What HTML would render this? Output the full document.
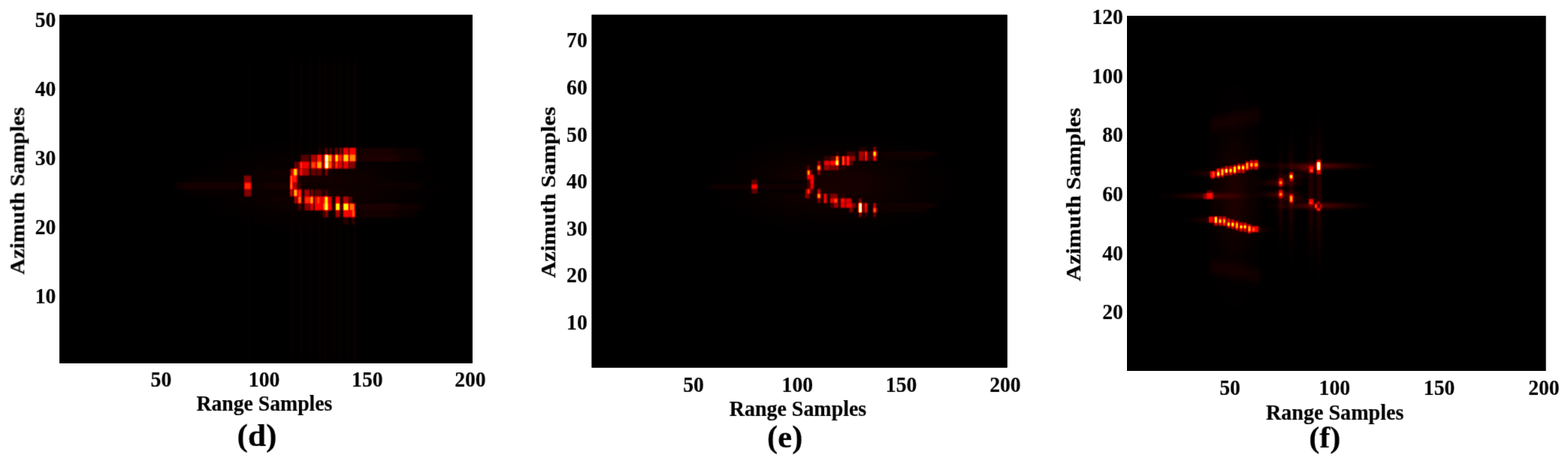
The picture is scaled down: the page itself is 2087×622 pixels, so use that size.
<!DOCTYPE html>
<html lang="en">
<head>
<meta charset="utf-8">
<title>Range / Azimuth sample maps (d) (e) (f)</title>
<style>
html,body{margin:0;padding:0;background:#fff;}
body{width:2087px;height:622px;overflow:hidden;}
svg{display:block;}
text{font-family:'Liberation Serif', serif;font-weight:bold;fill:#000;stroke:#000;stroke-width:0.18px;}
.l>*{mix-blend-mode:lighten;}
</style>
</head>
<body>
<svg width="2087" height="622" viewBox="0 0 2087 622">
<defs>
<filter id="h1" color-interpolation-filters="sRGB" filterUnits="userSpaceOnUse" x="71" y="12" width="566" height="480"><feConvolveMatrix order="5 1" kernelMatrix="0.0219 0.2285 0.4991 0.2285 0.0219" divisor="1" edgeMode="duplicate" preserveAlpha="true"/><feConvolveMatrix order="1 5" kernelMatrix="0.0219 0.2285 0.4991 0.2285 0.0219" divisor="1" edgeMode="duplicate" preserveAlpha="true"/><feComponentTransfer>
<feFuncR type="table" tableValues="0 .3333 .6667 1 1 1 1 1 1"/>
<feFuncG type="table" tableValues="0 0 0 0 .3333 .6667 1 1 1"/>
<feFuncB type="table" tableValues="0 0 0 0 0 0 0 .5 1"/>
</feComponentTransfer></filter>
<filter id="h2" color-interpolation-filters="sRGB" filterUnits="userSpaceOnUse" x="780" y="12" width="569" height="486"><feConvolveMatrix order="5 1" kernelMatrix="0.0219 0.2285 0.4991 0.2285 0.0219" divisor="1" edgeMode="duplicate" preserveAlpha="true"/><feConvolveMatrix order="1 5" kernelMatrix="0.0219 0.2285 0.4991 0.2285 0.0219" divisor="1" edgeMode="duplicate" preserveAlpha="true"/><feComponentTransfer>
<feFuncR type="table" tableValues="0 .3333 .6667 1 1 1 1 1 1"/>
<feFuncG type="table" tableValues="0 0 0 0 .3333 .6667 1 1 1"/>
<feFuncB type="table" tableValues="0 0 0 0 0 0 0 .5 1"/>
</feComponentTransfer></filter>
<filter id="h3" color-interpolation-filters="sRGB" filterUnits="userSpaceOnUse" x="1492" y="13" width="573" height="489"><feConvolveMatrix order="5 1" kernelMatrix="0.0152 0.2188 0.5321 0.2188 0.0152" divisor="1" edgeMode="duplicate" preserveAlpha="true"/><feConvolveMatrix order="1 5" kernelMatrix="0.0219 0.2285 0.4991 0.2285 0.0219" divisor="1" edgeMode="duplicate" preserveAlpha="true"/><feComponentTransfer>
<feFuncR type="table" tableValues="0 .3333 .6667 1 1 1 1 1 1"/>
<feFuncG type="table" tableValues="0 0 0 0 .3333 .6667 1 1 1"/>
<feFuncB type="table" tableValues="0 0 0 0 0 0 0 .5 1"/>
</feComponentTransfer></filter>
<filter id="tb" color-interpolation-filters="sRGB" filterUnits="userSpaceOnUse" x="0" y="0" width="2087" height="622"><feConvolveMatrix order="5 1" kernelMatrix="0.0001 0.0929 0.8139 0.0929 0.0001" divisor="1" edgeMode="duplicate" preserveAlpha="false"/><feConvolveMatrix order="1 5" kernelMatrix="0.0001 0.0929 0.8139 0.0929 0.0001" divisor="1" edgeMode="duplicate" preserveAlpha="false"/></filter>
<filter id="vb" filterUnits="userSpaceOnUse" x="60" y="0" width="590" height="505" color-interpolation-filters="sRGB"><feGaussianBlur stdDeviation="1.4 8"/></filter>
<filter id="sb" x="-20%" y="-300%" width="140%" height="700%" color-interpolation-filters="sRGB"><feGaussianBlur stdDeviation="6 0"/></filter>
<filter id="gb" filterUnits="userSpaceOnUse" x="1480" y="1" width="600" height="515" color-interpolation-filters="sRGB"><feGaussianBlur stdDeviation="2"/></filter>
<radialGradient id="bg"><stop offset="0" stop-color="#fff"/><stop offset="0.22" stop-color="#e0e0e0"/><stop offset="0.45" stop-color="#777"/><stop offset="0.7" stop-color="#2c2c2c"/><stop offset="1" stop-color="#000"/></radialGradient>
<clipPath id="c1"><rect x="79.3" y="19.8" width="549.5" height="464.0"/></clipPath>
<clipPath id="c2"><rect x="787.6" y="19.7" width="553.0" height="469.9"/></clipPath>
<clipPath id="c3"><rect x="1500.0" y="21.0" width="557.4" height="473.0"/></clipPath>
</defs>
<rect width="2087" height="622" fill="#fff"/>
<g>
<rect x="79.3" y="19.8" width="549.5" height="464.0" fill="#000"/>
<rect x="787.6" y="19.7" width="553.0" height="469.9" fill="#000"/>
<rect x="1500.0" y="21.0" width="557.4" height="473.0" fill="#000"/>
</g>
<g clip-path="url(#c1)"><g filter="url(#h1)">
<rect x="69.3" y="9.8" width="569.5" height="484.0" fill="#000"/><ellipse cx="420" cy="248" rx="190" ry="70" fill="url(#bg)" opacity="0.035"/>
<g class="l" filter="url(#vb)">
<rect x="388.0" y="79.8" width="2.2" height="404.0" fill="#050505"/>
<rect x="400.0" y="79.8" width="2.2" height="404.0" fill="#060606"/>
<rect x="412.0" y="79.8" width="2.2" height="404.0" fill="#050505"/>
<rect x="424.0" y="79.8" width="2.2" height="404.0" fill="#070707"/>
<rect x="432.0" y="79.8" width="2.2" height="404.0" fill="#070707"/>
<rect x="444.0" y="79.8" width="2.2" height="404.0" fill="#060606"/>
<rect x="452.0" y="79.8" width="2.2" height="404.0" fill="#070707"/>
<rect x="462.0" y="79.8" width="2.2" height="404.0" fill="#060606"/>
<rect x="471.0" y="79.8" width="2.2" height="404.0" fill="#070707"/>
<rect x="330.0" y="79.8" width="2.2" height="404.0" fill="#040404"/>
</g>
<g filter="url(#sb)" class="l">
<rect x="476.0" y="196.7" width="49.0" height="9.3" fill="#090909"/>
<rect x="476.0" y="196.7" width="82.0" height="9.3" fill="#050505"/>
<rect x="476.0" y="206.0" width="54.0" height="9.3" fill="#0b0b0b"/>
<rect x="476.0" y="206.0" width="86.0" height="9.3" fill="#060606"/>
<rect x="236.0" y="243.1" width="326.0" height="9.3" fill="#050505"/>
<rect x="236.0" y="243.1" width="84.0" height="9.3" fill="#080808"/>
<rect x="350.0" y="243.1" width="40.0" height="9.3" fill="#080808"/>
<rect x="400.0" y="243.1" width="70.0" height="9.3" fill="#060606"/>
<rect x="474.0" y="271.0" width="56.0" height="9.3" fill="#0a0a0a"/>
<rect x="474.0" y="271.0" width="88.0" height="9.3" fill="#060606"/>
<rect x="474.0" y="280.2" width="51.0" height="9.3" fill="#080808"/>
<rect x="474.0" y="280.2" width="82.0" height="9.3" fill="#040404"/>
<rect x="335.0" y="215.3" width="55.0" height="9.3" fill="#030303"/>
<rect x="335.0" y="233.8" width="50.0" height="9.3" fill="#040404"/>
<rect x="335.0" y="252.4" width="50.0" height="9.3" fill="#040404"/>
<rect x="250.0" y="233.8" width="72.0" height="9.3" fill="#030303"/>
<rect x="250.0" y="252.4" width="72.0" height="9.3" fill="#030303"/>
</g>
<rect x="423.5" y="196.7" width="3.9" height="9.3" fill="#0d0d0d"/>
<rect x="432.2" y="196.7" width="3.9" height="9.3" fill="#1f1f1f"/>
<rect x="438.0" y="196.7" width="3.9" height="9.3" fill="#1a1a1a"/>
<rect x="445.7" y="196.7" width="3.9" height="9.3" fill="#262626"/>
<rect x="451.5" y="196.7" width="3.9" height="9.3" fill="#2e2e2e"/>
<rect x="456.8" y="196.7" width="7.2" height="9.3" fill="#585858"/>
<rect x="465.0" y="196.7" width="8.7" height="9.3" fill="#5f5f5f"/>
<rect x="400.3" y="206.0" width="11.6" height="9.3" fill="#1f1f1f"/>
<rect x="413.8" y="206.0" width="6.8" height="9.3" fill="#404040"/>
<rect x="421.6" y="206.0" width="6.8" height="9.3" fill="#6a6a6a"/>
<rect x="429.3" y="206.0" width="2.9" height="9.3" fill="#333333"/>
<rect x="432.4" y="206.0" width="4.4" height="9.3" fill="#ffffff"/>
<rect x="437.2" y="206.0" width="4.8" height="9.3" fill="#9a9a9a"/>
<rect x="441.8" y="206.0" width="3.9" height="9.3" fill="#333333"/>
<rect x="445.9" y="206.0" width="4.4" height="9.3" fill="#b6b6b6"/>
<rect x="450.7" y="206.0" width="4.8" height="9.3" fill="#707070"/>
<rect x="456.8" y="206.0" width="7.2" height="9.3" fill="#afafaf"/>
<rect x="465.0" y="206.0" width="8.7" height="9.3" fill="#929292"/>
<rect x="391.7" y="215.3" width="3.9" height="9.3" fill="#262626"/>
<rect x="396.5" y="215.3" width="3.4" height="9.3" fill="#333333"/>
<rect x="399.6" y="215.3" width="2.9" height="9.3" fill="#7e7e7e"/>
<rect x="402.7" y="215.3" width="8.7" height="9.3" fill="#5d5d5d"/>
<rect x="413.8" y="215.3" width="6.8" height="9.3" fill="#777777"/>
<rect x="421.6" y="215.3" width="6.8" height="9.3" fill="#9f9f9f"/>
<rect x="429.3" y="215.3" width="2.9" height="9.3" fill="#333333"/>
<rect x="432.4" y="215.3" width="4.4" height="9.3" fill="#ffffff"/>
<rect x="437.2" y="215.3" width="4.8" height="9.3" fill="#7e7e7e"/>
<rect x="441.8" y="215.3" width="3.9" height="9.3" fill="#333333"/>
<rect x="445.9" y="215.3" width="4.4" height="9.3" fill="#707070"/>
<rect x="450.7" y="215.3" width="4.8" height="9.3" fill="#545454"/>
<rect x="456.8" y="215.3" width="7.2" height="9.3" fill="#585858"/>
<rect x="465.0" y="215.3" width="7.7" height="9.3" fill="#333333"/>
<rect x="386.6" y="224.6" width="4.4" height="9.3" fill="#545454"/>
<rect x="390.9" y="224.6" width="4.8" height="9.3" fill="#b6b6b6"/>
<rect x="396.5" y="224.6" width="3.4" height="9.3" fill="#333333"/>
<rect x="399.6" y="224.6" width="2.9" height="9.3" fill="#707070"/>
<rect x="402.7" y="224.6" width="8.7" height="9.3" fill="#404040"/>
<rect x="413.8" y="224.6" width="6.8" height="9.3" fill="#262626"/>
<rect x="421.6" y="224.6" width="6.8" height="9.3" fill="#262626"/>
<rect x="432.7" y="224.6" width="3.4" height="9.3" fill="#2e2e2e"/>
<rect x="324.6" y="233.8" width="9.6" height="9.3" fill="#333333"/>
<rect x="386.1" y="233.8" width="3.4" height="9.3" fill="#8c8c8c"/>
<rect x="389.7" y="233.8" width="5.8" height="9.3" fill="#6a6a6a"/>
<rect x="396.5" y="233.8" width="3.9" height="9.3" fill="#0d0d0d"/>
<rect x="325.1" y="243.1" width="9.2" height="9.3" fill="#6f6f6f"/>
<rect x="386.1" y="243.1" width="3.4" height="9.3" fill="#9a9a9a"/>
<rect x="390.2" y="243.1" width="5.3" height="9.3" fill="#404040"/>
<rect x="396.5" y="243.1" width="3.9" height="9.3" fill="#1a1a1a"/>
<rect x="325.1" y="252.4" width="9.2" height="9.3" fill="#333333"/>
<rect x="386.1" y="252.4" width="3.4" height="9.3" fill="#545454"/>
<rect x="390.9" y="252.4" width="4.8" height="9.3" fill="#a8a8a8"/>
<rect x="396.5" y="252.4" width="4.8" height="9.3" fill="#6f6f6f"/>
<rect x="405.2" y="252.4" width="6.8" height="9.3" fill="#404040"/>
<rect x="413.8" y="252.4" width="2.9" height="9.3" fill="#333333"/>
<rect x="418.7" y="252.4" width="9.6" height="9.3" fill="#1f1f1f"/>
<rect x="432.2" y="252.4" width="3.9" height="9.3" fill="#1a1a1a"/>
<rect x="391.7" y="261.7" width="3.9" height="9.3" fill="#404040"/>
<rect x="396.5" y="261.7" width="4.8" height="9.3" fill="#8a8a8a"/>
<rect x="405.2" y="261.7" width="7.7" height="9.3" fill="#6f6f6f"/>
<rect x="413.1" y="261.7" width="3.9" height="9.3" fill="#a3a3a3"/>
<rect x="418.4" y="261.7" width="4.4" height="9.3" fill="#5d5d5d"/>
<rect x="422.3" y="261.7" width="3.4" height="9.3" fill="#7e7e7e"/>
<rect x="425.2" y="261.7" width="3.4" height="9.3" fill="#5d5d5d"/>
<rect x="429.0" y="261.7" width="3.9" height="9.3" fill="#626262"/>
<rect x="432.4" y="261.7" width="4.4" height="9.3" fill="#bfbfbf"/>
<rect x="436.5" y="261.7" width="5.3" height="9.3" fill="#505050"/>
<rect x="446.6" y="261.7" width="5.8" height="9.3" fill="#5f5f5f"/>
<rect x="456.8" y="261.7" width="7.2" height="9.3" fill="#454545"/>
<rect x="465.0" y="261.7" width="3.9" height="9.3" fill="#1f1f1f"/>
<rect x="396.5" y="271.0" width="4.8" height="9.3" fill="#1a1a1a"/>
<rect x="405.2" y="271.0" width="7.7" height="9.3" fill="#333333"/>
<rect x="413.1" y="271.0" width="3.9" height="9.3" fill="#545454"/>
<rect x="418.7" y="271.0" width="9.6" height="9.3" fill="#5f5f5f"/>
<rect x="429.0" y="271.0" width="3.9" height="9.3" fill="#767676"/>
<rect x="432.4" y="271.0" width="4.4" height="9.3" fill="#d2d2d2"/>
<rect x="436.5" y="271.0" width="5.3" height="9.3" fill="#5d5d5d"/>
<rect x="446.6" y="271.0" width="5.8" height="9.3" fill="#bfbfbf"/>
<rect x="456.8" y="271.0" width="7.2" height="9.3" fill="#bfbfbf"/>
<rect x="465.0" y="271.0" width="7.2" height="9.3" fill="#8a8a8a"/>
<rect x="429.3" y="280.2" width="3.4" height="9.3" fill="#1a1a1a"/>
<rect x="432.7" y="280.2" width="3.9" height="9.3" fill="#333333"/>
<rect x="446.6" y="280.2" width="5.8" height="9.3" fill="#404040"/>
<rect x="456.8" y="280.2" width="7.2" height="9.3" fill="#5f5f5f"/>
<rect x="464.0" y="280.2" width="4.8" height="9.3" fill="#585858"/>
<rect x="468.6" y="280.2" width="3.9" height="9.3" fill="#878787"/>
<rect x="456.8" y="289.5" width="7.2" height="9.3" fill="#0f0f0f"/>
<rect x="467.9" y="289.5" width="4.3" height="9.3" fill="#141414"/>
</g></g>
<g clip-path="url(#c2)"><g filter="url(#h2)">
<rect x="777.6" y="9.7" width="573.0" height="489.9" fill="#000"/><ellipse cx="1110" cy="245" rx="190" ry="75" fill="url(#bg)" opacity="0.035"/>
<g filter="url(#sb)" class="l">
<rect x="945.0" y="245.5" width="130.0" height="6.3" fill="#070707"/>
<rect x="990.0" y="239.2" width="85.0" height="6.3" fill="#030303"/>
<rect x="990.0" y="251.7" width="85.0" height="6.3" fill="#030303"/>
<rect x="1168.0" y="201.6" width="77.0" height="6.3" fill="#070707"/>
<rect x="1168.0" y="207.9" width="67.0" height="6.3" fill="#050505"/>
<rect x="1168.0" y="270.5" width="77.0" height="6.3" fill="#070707"/>
<rect x="1168.0" y="276.8" width="67.0" height="6.3" fill="#050505"/>
</g>
<rect x="1162.3" y="195.3" width="3.9" height="6.3" fill="#2f2f2f"/>
<rect x="1143.0" y="195.3" width="10.6" height="6.3" fill="#0c0c0c"/>
<rect x="1113.1" y="201.6" width="2.9" height="6.3" fill="#131313"/>
<rect x="1126.6" y="201.6" width="11.6" height="6.3" fill="#181818"/>
<rect x="1143.0" y="201.6" width="6.8" height="6.3" fill="#404040"/>
<rect x="1151.0" y="201.6" width="3.4" height="6.3" fill="#757575"/>
<rect x="1154.1" y="201.6" width="7.2" height="6.3" fill="#181818"/>
<rect x="1162.1" y="201.6" width="4.4" height="6.3" fill="#b7b7b7"/>
<rect x="1096.7" y="207.9" width="7.7" height="6.3" fill="#131313"/>
<rect x="1105.4" y="207.9" width="6.8" height="6.3" fill="#242424"/>
<rect x="1112.4" y="207.9" width="3.9" height="6.3" fill="#9d9d9d"/>
<rect x="1120.6" y="207.9" width="3.9" height="6.3" fill="#828282"/>
<rect x="1126.4" y="207.9" width="4.4" height="6.3" fill="#757575"/>
<rect x="1131.5" y="207.9" width="6.8" height="6.3" fill="#3b3b3b"/>
<rect x="1143.0" y="207.9" width="6.8" height="6.3" fill="#3b3b3b"/>
<rect x="1151.0" y="207.9" width="3.4" height="6.3" fill="#686868"/>
<rect x="1154.1" y="207.9" width="7.2" height="6.3" fill="#181818"/>
<rect x="1162.1" y="207.9" width="4.4" height="6.3" fill="#5e5e5e"/>
<rect x="1088.1" y="214.1" width="3.9" height="6.3" fill="#343434"/>
<rect x="1096.7" y="214.1" width="7.7" height="6.3" fill="#595959"/>
<rect x="1104.9" y="214.1" width="7.2" height="6.3" fill="#636363"/>
<rect x="1112.4" y="214.1" width="3.9" height="6.3" fill="#ebebeb"/>
<rect x="1120.6" y="214.1" width="3.9" height="6.3" fill="#828282"/>
<rect x="1126.4" y="214.1" width="4.4" height="6.3" fill="#6e6e6e"/>
<rect x="1131.5" y="214.1" width="3.9" height="6.3" fill="#242424"/>
<rect x="1074.5" y="220.4" width="2.9" height="6.3" fill="#242424"/>
<rect x="1087.8" y="220.4" width="4.4" height="6.3" fill="#9d9d9d"/>
<rect x="1096.7" y="220.4" width="7.7" height="6.3" fill="#3b3b3b"/>
<rect x="1104.9" y="220.4" width="7.2" height="6.3" fill="#2f2f2f"/>
<rect x="1112.7" y="220.4" width="3.4" height="6.3" fill="#3b3b3b"/>
<rect x="1120.9" y="220.4" width="3.4" height="6.3" fill="#131313"/>
<rect x="1074.3" y="226.7" width="4.4" height="6.3" fill="#9d9d9d"/>
<rect x="1078.4" y="226.7" width="3.9" height="6.3" fill="#181818"/>
<rect x="1088.1" y="226.7" width="3.9" height="6.3" fill="#343434"/>
<rect x="1074.3" y="232.9" width="4.4" height="6.3" fill="#5e5e5e"/>
<rect x="1078.4" y="232.9" width="4.8" height="6.3" fill="#636363"/>
<rect x="1000.3" y="239.2" width="7.7" height="6.3" fill="#242424"/>
<rect x="1074.5" y="239.2" width="2.9" height="6.3" fill="#1c1c1c"/>
<rect x="1078.4" y="239.2" width="4.8" height="6.3" fill="#636363"/>
<rect x="1000.3" y="245.5" width="7.7" height="6.3" fill="#636363"/>
<rect x="1074.5" y="245.5" width="2.9" height="6.3" fill="#1c1c1c"/>
<rect x="1078.4" y="245.5" width="4.8" height="6.3" fill="#595959"/>
<rect x="1000.3" y="251.7" width="7.7" height="6.3" fill="#242424"/>
<rect x="1071.7" y="251.7" width="2.9" height="6.3" fill="#2f2f2f"/>
<rect x="1074.3" y="251.7" width="4.4" height="6.3" fill="#757575"/>
<rect x="1078.4" y="251.7" width="4.8" height="6.3" fill="#181818"/>
<rect x="1088.1" y="251.7" width="3.9" height="6.3" fill="#474747"/>
<rect x="1071.7" y="258.0" width="5.8" height="6.3" fill="#343434"/>
<rect x="1087.8" y="258.0" width="4.4" height="6.3" fill="#9d9d9d"/>
<rect x="1096.5" y="258.0" width="3.9" height="6.3" fill="#636363"/>
<rect x="1104.9" y="258.0" width="10.1" height="6.3" fill="#2f2f2f"/>
<rect x="1118.9" y="258.0" width="5.8" height="6.3" fill="#0e0e0e"/>
<rect x="1088.1" y="264.2" width="3.9" height="6.3" fill="#2f2f2f"/>
<rect x="1096.5" y="264.2" width="3.9" height="6.3" fill="#686868"/>
<rect x="1104.9" y="264.2" width="4.8" height="6.3" fill="#595959"/>
<rect x="1109.8" y="264.2" width="5.3" height="6.3" fill="#7b7b7b"/>
<rect x="1118.9" y="264.2" width="5.8" height="6.3" fill="#636363"/>
<rect x="1125.7" y="264.2" width="7.7" height="6.3" fill="#515151"/>
<rect x="1143.0" y="264.2" width="3.9" height="6.3" fill="#2f2f2f"/>
<rect x="1104.9" y="270.5" width="4.8" height="6.3" fill="#181818"/>
<rect x="1109.8" y="270.5" width="6.3" height="6.3" fill="#3b3b3b"/>
<rect x="1118.9" y="270.5" width="5.8" height="6.3" fill="#595959"/>
<rect x="1125.7" y="270.5" width="8.7" height="6.3" fill="#5b5b5b"/>
<rect x="1134.4" y="270.5" width="4.8" height="6.3" fill="#2f2f2f"/>
<rect x="1142.8" y="270.5" width="4.4" height="6.3" fill="#ffffff"/>
<rect x="1150.5" y="270.5" width="3.9" height="6.3" fill="#686868"/>
<rect x="1162.3" y="270.5" width="3.9" height="6.3" fill="#474747"/>
<rect x="1130.5" y="276.8" width="4.8" height="6.3" fill="#2f2f2f"/>
<rect x="1142.8" y="276.8" width="4.4" height="6.3" fill="#f8f8f8"/>
<rect x="1150.5" y="276.8" width="3.9" height="6.3" fill="#5b5b5b"/>
<rect x="1162.1" y="276.8" width="4.4" height="6.3" fill="#828282"/>
<rect x="1143.0" y="283.0" width="3.9" height="6.3" fill="#2f2f2f"/>
<rect x="1150.8" y="283.0" width="3.4" height="6.3" fill="#131313"/>
<rect x="1162.3" y="283.0" width="3.9" height="6.3" fill="#242424"/>
</g></g>
<g clip-path="url(#c3)"><g filter="url(#h3)">
<rect x="1490.0" y="11.0" width="577.4" height="493.0" fill="#000"/>
<g class="l" filter="url(#gb)">
<ellipse cx="1609.0" cy="261.0" rx="70.0" ry="4.5" fill="url(#bg)" opacity="0.150"/>
<ellipse cx="1613.0" cy="231.0" rx="40.0" ry="4.5" fill="url(#bg)" opacity="0.090"/>
<ellipse cx="1612.0" cy="293.0" rx="40.0" ry="4.5" fill="url(#bg)" opacity="0.090"/>
<ellipse cx="1755.0" cy="221.0" rx="85.0" ry="5.0" fill="url(#bg)" opacity="0.190"/>
<ellipse cx="1755.0" cy="274.0" rx="80.0" ry="5.0" fill="url(#bg)" opacity="0.170"/>
<ellipse cx="1704.5" cy="243.5" rx="40.0" ry="4.5" fill="url(#bg)" opacity="0.150"/>
<ellipse cx="1704.5" cy="259.0" rx="40.0" ry="4.5" fill="url(#bg)" opacity="0.150"/>
<ellipse cx="1718.5" cy="235.0" rx="35.0" ry="4.0" fill="url(#bg)" opacity="0.100"/>
<ellipse cx="1718.5" cy="265.0" rx="35.0" ry="4.0" fill="url(#bg)" opacity="0.100"/>
<ellipse cx="1738.0" cy="226.0" rx="22.0" ry="5.0" fill="url(#bg)" opacity="0.130"/>
<ellipse cx="1672.0" cy="220.0" rx="30.0" ry="4.5" fill="url(#bg)" opacity="0.080"/>
<ellipse cx="1672.0" cy="306.0" rx="30.0" ry="4.5" fill="url(#bg)" opacity="0.080"/>
<ellipse cx="1704.5" cy="260.0" rx="3.5" ry="85.0" fill="url(#bg)" opacity="0.100"/>
<ellipse cx="1718.5" cy="260.0" rx="3.5" ry="105.0" fill="url(#bg)" opacity="0.100"/>
<ellipse cx="1745.0" cy="260.0" rx="3.5" ry="110.0" fill="url(#bg)" opacity="0.110"/>
<ellipse cx="1755.5" cy="260.0" rx="3.5" ry="125.0" fill="url(#bg)" opacity="0.120"/>
<ellipse cx="1643.0" cy="260.0" rx="38.0" ry="150.0" fill="url(#bg)" opacity="0.030"/>
<ellipse cx="1613.5" cy="166.0" rx="2.2" ry="20.0" fill="url(#bg)" opacity="0.075"/>
<ellipse cx="1613.5" cy="355.0" rx="2.2" ry="20.0" fill="url(#bg)" opacity="0.075"/>
<ellipse cx="1613.5" cy="260.0" rx="1.8" ry="120.0" fill="url(#bg)" opacity="0.040"/>
<ellipse cx="1619.0" cy="164.9" rx="2.2" ry="20.0" fill="url(#bg)" opacity="0.075"/>
<ellipse cx="1619.0" cy="356.1" rx="2.2" ry="20.0" fill="url(#bg)" opacity="0.075"/>
<ellipse cx="1619.0" cy="260.0" rx="1.8" ry="120.0" fill="url(#bg)" opacity="0.040"/>
<ellipse cx="1624.6" cy="163.8" rx="2.2" ry="20.0" fill="url(#bg)" opacity="0.075"/>
<ellipse cx="1624.6" cy="357.2" rx="2.2" ry="20.0" fill="url(#bg)" opacity="0.075"/>
<ellipse cx="1624.6" cy="260.0" rx="1.8" ry="120.0" fill="url(#bg)" opacity="0.040"/>
<ellipse cx="1630.2" cy="162.7" rx="2.2" ry="20.0" fill="url(#bg)" opacity="0.075"/>
<ellipse cx="1630.2" cy="358.3" rx="2.2" ry="20.0" fill="url(#bg)" opacity="0.075"/>
<ellipse cx="1630.2" cy="260.0" rx="1.8" ry="120.0" fill="url(#bg)" opacity="0.040"/>
<ellipse cx="1635.7" cy="161.6" rx="2.2" ry="20.0" fill="url(#bg)" opacity="0.075"/>
<ellipse cx="1635.7" cy="359.4" rx="2.2" ry="20.0" fill="url(#bg)" opacity="0.075"/>
<ellipse cx="1635.7" cy="260.0" rx="1.8" ry="120.0" fill="url(#bg)" opacity="0.040"/>
<ellipse cx="1641.2" cy="160.5" rx="2.2" ry="20.0" fill="url(#bg)" opacity="0.075"/>
<ellipse cx="1641.2" cy="360.5" rx="2.2" ry="20.0" fill="url(#bg)" opacity="0.075"/>
<ellipse cx="1641.2" cy="260.0" rx="1.8" ry="120.0" fill="url(#bg)" opacity="0.040"/>
<ellipse cx="1646.8" cy="159.4" rx="2.2" ry="20.0" fill="url(#bg)" opacity="0.075"/>
<ellipse cx="1646.8" cy="361.6" rx="2.2" ry="20.0" fill="url(#bg)" opacity="0.075"/>
<ellipse cx="1646.8" cy="260.0" rx="1.8" ry="120.0" fill="url(#bg)" opacity="0.040"/>
<ellipse cx="1652.3" cy="158.3" rx="2.2" ry="20.0" fill="url(#bg)" opacity="0.075"/>
<ellipse cx="1652.3" cy="362.7" rx="2.2" ry="20.0" fill="url(#bg)" opacity="0.075"/>
<ellipse cx="1652.3" cy="260.0" rx="1.8" ry="120.0" fill="url(#bg)" opacity="0.040"/>
<ellipse cx="1657.9" cy="157.2" rx="2.2" ry="20.0" fill="url(#bg)" opacity="0.075"/>
<ellipse cx="1657.9" cy="363.8" rx="2.2" ry="20.0" fill="url(#bg)" opacity="0.075"/>
<ellipse cx="1657.9" cy="260.0" rx="1.8" ry="120.0" fill="url(#bg)" opacity="0.040"/>
<ellipse cx="1663.5" cy="156.1" rx="2.2" ry="20.0" fill="url(#bg)" opacity="0.075"/>
<ellipse cx="1663.5" cy="364.9" rx="2.2" ry="20.0" fill="url(#bg)" opacity="0.075"/>
<ellipse cx="1663.5" cy="260.0" rx="1.8" ry="120.0" fill="url(#bg)" opacity="0.040"/>
<ellipse cx="1669.0" cy="155.0" rx="2.2" ry="20.0" fill="url(#bg)" opacity="0.075"/>
<ellipse cx="1669.0" cy="366.0" rx="2.2" ry="20.0" fill="url(#bg)" opacity="0.075"/>
<ellipse cx="1669.0" cy="260.0" rx="1.8" ry="120.0" fill="url(#bg)" opacity="0.040"/>
<ellipse cx="1674.5" cy="153.9" rx="2.2" ry="20.0" fill="url(#bg)" opacity="0.075"/>
<ellipse cx="1674.5" cy="367.1" rx="2.2" ry="20.0" fill="url(#bg)" opacity="0.075"/>
<ellipse cx="1674.5" cy="260.0" rx="1.8" ry="120.0" fill="url(#bg)" opacity="0.040"/>
</g>
<g class="l">
<rect x="1610.8" y="228.0" width="3.2" height="8.0" fill="#5c5c5c"/>
<rect x="1614.0" y="228.0" width="3.2" height="8.0" fill="#808080"/>
<rect x="1611.5" y="235.0" width="5.0" height="3.0" fill="#4c4c4c"/>
<rect x="1618.5" y="225.4" width="5.8" height="10.5" fill="#1f1f1f"/>
<rect x="1619.5" y="224.4" width="3.8" height="12.5" fill="#4f4f4f"/>
<rect x="1619.7" y="229.3" width="3.5" height="4.8" fill="#dbdbdb"/>
<rect x="1619.7" y="225.2" width="3.4" height="4.0" fill="#737373"/>
<rect x="1624.0" y="224.2" width="5.8" height="10.5" fill="#1f1f1f"/>
<rect x="1625.0" y="223.2" width="3.8" height="12.5" fill="#4f4f4f"/>
<rect x="1625.2" y="225.3" width="3.5" height="8.2" fill="#aeaeae"/>
<rect x="1629.4" y="222.2" width="5.8" height="10.5" fill="#1f1f1f"/>
<rect x="1630.4" y="221.2" width="3.8" height="12.5" fill="#4f4f4f"/>
<rect x="1630.5" y="225.1" width="3.5" height="4.8" fill="#e0e0e0"/>
<rect x="1635.0" y="221.9" width="5.8" height="10.5" fill="#1f1f1f"/>
<rect x="1636.0" y="220.9" width="3.8" height="12.5" fill="#4f4f4f"/>
<rect x="1636.2" y="224.8" width="3.5" height="4.8" fill="#c4c4c4"/>
<rect x="1640.5" y="220.7" width="5.8" height="10.5" fill="#1f1f1f"/>
<rect x="1641.5" y="219.7" width="3.8" height="12.5" fill="#4f4f4f"/>
<rect x="1641.7" y="221.8" width="3.5" height="8.2" fill="#bfbfbf"/>
<rect x="1646.2" y="219.1" width="5.8" height="10.5" fill="#1f1f1f"/>
<rect x="1647.2" y="218.1" width="3.8" height="12.5" fill="#4f4f4f"/>
<rect x="1647.3" y="220.9" width="3.5" height="4.8" fill="#d0d0d0"/>
<rect x="1651.7" y="219.1" width="5.8" height="10.5" fill="#1f1f1f"/>
<rect x="1652.7" y="218.1" width="3.8" height="12.5" fill="#4f4f4f"/>
<rect x="1652.8" y="220.9" width="3.5" height="4.8" fill="#d0d0d0"/>
<rect x="1657.1" y="215.8" width="5.8" height="10.5" fill="#1f1f1f"/>
<rect x="1658.1" y="214.8" width="3.8" height="12.5" fill="#4f4f4f"/>
<rect x="1658.2" y="217.0" width="3.5" height="8.2" fill="#a8a8a8"/>
<rect x="1662.9" y="214.2" width="5.8" height="10.5" fill="#1f1f1f"/>
<rect x="1663.9" y="213.2" width="3.8" height="12.5" fill="#4f4f4f"/>
<rect x="1664.0" y="217.1" width="3.5" height="4.8" fill="#b9b9b9"/>
<rect x="1669.0" y="214.2" width="5.8" height="10.5" fill="#1f1f1f"/>
<rect x="1669.2" y="213.2" width="5.3" height="12.5" fill="#4f4f4f"/>
<rect x="1669.4" y="217.1" width="5.0" height="4.8" fill="#a3a3a3"/>
<rect x="1608.9" y="288.4" width="5.8" height="8.2" fill="#5e5e5e"/>
<rect x="1615.4" y="289.1" width="5.8" height="10.5" fill="#1f1f1f"/>
<rect x="1616.4" y="288.1" width="3.8" height="12.5" fill="#4f4f4f"/>
<rect x="1616.5" y="288.7" width="3.5" height="8.2" fill="#cacaca"/>
<rect x="1621.1" y="289.2" width="5.8" height="10.5" fill="#1f1f1f"/>
<rect x="1622.1" y="288.2" width="3.8" height="12.5" fill="#4f4f4f"/>
<rect x="1622.2" y="292.0" width="3.5" height="5.0" fill="#b9b9b9"/>
<rect x="1626.5" y="289.1" width="5.8" height="10.5" fill="#1f1f1f"/>
<rect x="1627.5" y="288.1" width="3.8" height="12.5" fill="#4f4f4f"/>
<rect x="1627.7" y="291.7" width="3.5" height="5.2" fill="#a8a8a8"/>
<rect x="1627.7" y="296.6" width="3.4" height="4.0" fill="#737373"/>
<rect x="1632.3" y="291.9" width="5.8" height="10.5" fill="#1f1f1f"/>
<rect x="1633.3" y="290.9" width="3.8" height="12.5" fill="#4f4f4f"/>
<rect x="1633.5" y="296.2" width="3.5" height="4.8" fill="#b9b9b9"/>
<rect x="1637.8" y="293.2" width="5.8" height="10.5" fill="#1f1f1f"/>
<rect x="1638.8" y="292.2" width="3.8" height="12.5" fill="#4f4f4f"/>
<rect x="1639.0" y="296.6" width="3.5" height="4.8" fill="#cacaca"/>
<rect x="1643.3" y="295.1" width="5.8" height="10.5" fill="#1f1f1f"/>
<rect x="1644.3" y="294.1" width="3.8" height="12.5" fill="#4f4f4f"/>
<rect x="1644.5" y="296.7" width="3.5" height="7.2" fill="#a8a8a8"/>
<rect x="1649.0" y="296.9" width="5.8" height="10.5" fill="#1f1f1f"/>
<rect x="1650.0" y="295.9" width="3.8" height="12.5" fill="#4f4f4f"/>
<rect x="1650.2" y="300.2" width="3.5" height="4.0" fill="#cacaca"/>
<rect x="1654.2" y="297.4" width="5.8" height="10.5" fill="#1f1f1f"/>
<rect x="1655.2" y="296.4" width="3.8" height="12.5" fill="#4f4f4f"/>
<rect x="1655.3" y="300.2" width="3.5" height="4.0" fill="#cacaca"/>
<rect x="1660.0" y="299.6" width="5.8" height="10.5" fill="#1f1f1f"/>
<rect x="1661.0" y="298.6" width="3.8" height="12.5" fill="#4f4f4f"/>
<rect x="1661.2" y="301.2" width="3.5" height="7.2" fill="#aeaeae"/>
<rect x="1666.0" y="301.2" width="9.0" height="8.0" fill="#5c5c5c"/>
<rect x="1666.7" y="303.5" width="3.2" height="5.0" fill="#858585"/>
<rect x="1752.4" y="212.7" width="5.6" height="19.5" fill="#545454"/>
<rect x="1752.8" y="216.1" width="4.5" height="10.2" fill="#ffffff"/>
<rect x="1742.4" y="221.2" width="5.8" height="9.0" fill="#5c5c5c"/>
<rect x="1744.3" y="225.0" width="3.4" height="4.0" fill="#858585"/>
<rect x="1715.7" y="230.1" width="5.8" height="10.5" fill="#1f1f1f"/>
<rect x="1716.4" y="229.3" width="4.3" height="12.0" fill="#4f4f4f"/>
<rect x="1716.6" y="232.9" width="4.0" height="4.8" fill="#cacaca"/>
<rect x="1701.8" y="237.7" width="5.8" height="10.5" fill="#1f1f1f"/>
<rect x="1702.2" y="237.4" width="4.9" height="11.0" fill="#4f4f4f"/>
<rect x="1702.4" y="241.3" width="4.6" height="4.2" fill="#929292"/>
<rect x="1701.8" y="253.1" width="5.8" height="10.5" fill="#1f1f1f"/>
<rect x="1702.2" y="252.8" width="4.9" height="11.0" fill="#4f4f4f"/>
<rect x="1702.4" y="256.7" width="4.6" height="4.2" fill="#929292"/>
<rect x="1715.7" y="259.4" width="5.8" height="10.5" fill="#1f1f1f"/>
<rect x="1716.4" y="258.6" width="4.3" height="12.0" fill="#4f4f4f"/>
<rect x="1716.6" y="260.7" width="4.0" height="7.9" fill="#a3a3a3"/>
<rect x="1742.2" y="265.0" width="6.0" height="7.4" fill="#616161"/>
<rect x="1742.7" y="269.0" width="3.0" height="3.0" fill="#737373"/>
<rect x="1750.0" y="271.7" width="3.2" height="5.8" fill="#808080"/>
<rect x="1752.7" y="268.8" width="3.4" height="2.4" fill="#545454"/>
<rect x="1756.7" y="272.3" width="2.6" height="4.6" fill="#545454"/>
<rect x="1752.7" y="277.4" width="4.6" height="3.2" fill="#7a7a7a"/>
<rect x="1605.7" y="256.7" width="8.7" height="8.4" fill="#616161"/>
<rect x="1609.5" y="257.5" width="3.0" height="3.0" fill="#6b6b6b"/>
<rect x="1601.5" y="257.8" width="4.5" height="7.5" fill="#333333"/>
<rect x="1606.5" y="253.2" width="7.0" height="3.5" fill="#1f1f1f"/>
</g>
</g></g>
<g filter="url(#tb)">
<text x="214.4" y="515.4" font-size="30.2" text-anchor="middle" textLength="27.7" lengthAdjust="spacingAndGlyphs">50</text>
<text x="351.6" y="515.4" font-size="30.2" text-anchor="middle" textLength="41.5" lengthAdjust="spacingAndGlyphs">100</text>
<text x="488.8" y="515.4" font-size="30.2" text-anchor="middle" textLength="41.5" lengthAdjust="spacingAndGlyphs">150</text>
<text x="625.9" y="515.4" font-size="30.2" text-anchor="middle" textLength="41.5" lengthAdjust="spacingAndGlyphs">200</text>
<text x="74.4" y="35.8" font-size="30.2" text-anchor="end" textLength="27.7" lengthAdjust="spacingAndGlyphs">50</text>
<text x="74.4" y="127.8" font-size="30.2" text-anchor="end" textLength="27.7" lengthAdjust="spacingAndGlyphs">40</text>
<text x="74.4" y="220.0" font-size="30.2" text-anchor="end" textLength="27.7" lengthAdjust="spacingAndGlyphs">30</text>
<text x="74.4" y="312.1" font-size="30.2" text-anchor="end" textLength="27.7" lengthAdjust="spacingAndGlyphs">20</text>
<text x="74.4" y="404.2" font-size="30.2" text-anchor="end" textLength="27.7" lengthAdjust="spacingAndGlyphs">10</text>
<text x="923.0" y="521.6" font-size="30.2" text-anchor="middle" textLength="27.7" lengthAdjust="spacingAndGlyphs">50</text>
<text x="1061.3" y="521.6" font-size="30.2" text-anchor="middle" textLength="41.5" lengthAdjust="spacingAndGlyphs">100</text>
<text x="1199.6" y="521.6" font-size="30.2" text-anchor="middle" textLength="41.5" lengthAdjust="spacingAndGlyphs">150</text>
<text x="1337.9" y="521.6" font-size="30.2" text-anchor="middle" textLength="41.5" lengthAdjust="spacingAndGlyphs">200</text>
<text x="781.8" y="63.2" font-size="30.2" text-anchor="end" textLength="27.7" lengthAdjust="spacingAndGlyphs">70</text>
<text x="781.8" y="125.9" font-size="30.2" text-anchor="end" textLength="27.7" lengthAdjust="spacingAndGlyphs">60</text>
<text x="781.8" y="188.5" font-size="30.2" text-anchor="end" textLength="27.7" lengthAdjust="spacingAndGlyphs">50</text>
<text x="781.8" y="251.1" font-size="30.2" text-anchor="end" textLength="27.7" lengthAdjust="spacingAndGlyphs">40</text>
<text x="781.8" y="313.7" font-size="30.2" text-anchor="end" textLength="27.7" lengthAdjust="spacingAndGlyphs">30</text>
<text x="781.8" y="376.3" font-size="30.2" text-anchor="end" textLength="27.7" lengthAdjust="spacingAndGlyphs">20</text>
<text x="781.8" y="439.0" font-size="30.2" text-anchor="end" textLength="27.7" lengthAdjust="spacingAndGlyphs">10</text>
<text x="1637.0" y="526.1" font-size="30.2" text-anchor="middle" textLength="27.7" lengthAdjust="spacingAndGlyphs">50</text>
<text x="1776.3" y="526.1" font-size="30.2" text-anchor="middle" textLength="41.5" lengthAdjust="spacingAndGlyphs">100</text>
<text x="1915.6" y="526.1" font-size="30.2" text-anchor="middle" textLength="41.5" lengthAdjust="spacingAndGlyphs">150</text>
<text x="2054.9" y="526.1" font-size="30.2" text-anchor="middle" textLength="41.5" lengthAdjust="spacingAndGlyphs">200</text>
<text x="1494.9" y="32.0" font-size="30.2" text-anchor="end" textLength="41.5" lengthAdjust="spacingAndGlyphs">120</text>
<text x="1494.9" y="110.6" font-size="30.2" text-anchor="end" textLength="41.5" lengthAdjust="spacingAndGlyphs">100</text>
<text x="1494.9" y="189.3" font-size="30.2" text-anchor="end" textLength="27.7" lengthAdjust="spacingAndGlyphs">80</text>
<text x="1494.9" y="267.9" font-size="30.2" text-anchor="end" textLength="27.7" lengthAdjust="spacingAndGlyphs">60</text>
<text x="1494.9" y="346.6" font-size="30.2" text-anchor="end" textLength="27.7" lengthAdjust="spacingAndGlyphs">40</text>
<text x="1494.9" y="425.2" font-size="30.2" text-anchor="end" textLength="27.7" lengthAdjust="spacingAndGlyphs">20</text>
<text x="351.9" y="546.5" font-size="28.5" text-anchor="middle" textLength="181.0" lengthAdjust="spacingAndGlyphs">Range Samples</text>
<text x="1062.0" y="553.6" font-size="28.8" text-anchor="middle" textLength="182.5" lengthAdjust="spacingAndGlyphs">Range Samples</text>
<text x="1776.7" y="558.6" font-size="28.9" text-anchor="middle" textLength="183.3" lengthAdjust="spacingAndGlyphs">Range Samples</text>
<text x="342.0" y="594.0" font-size="42.5" text-anchor="middle" textLength="53.0" lengthAdjust="spacingAndGlyphs">(d)</text>
<text x="1044.7" y="595.7" font-size="42.5" text-anchor="middle" textLength="47.2" lengthAdjust="spacingAndGlyphs">(e)</text>
<text x="1763.3" y="596.1" font-size="40.5" text-anchor="middle" textLength="42.3" lengthAdjust="spacingAndGlyphs">(f)</text>
<text x="32.6" y="254.3" font-size="28.0" text-anchor="middle" textLength="223.2" lengthAdjust="spacingAndGlyphs" transform="rotate(-90 32.6 254.3)">Azimuth Samples</text>
<text x="739.5" y="256.3" font-size="28.0" text-anchor="middle" textLength="228.0" lengthAdjust="spacingAndGlyphs" transform="rotate(-90 739.5 256.3)">Azimuth Samples</text>
<text x="1438.3" y="259.0" font-size="28.0" text-anchor="middle" textLength="230.8" lengthAdjust="spacingAndGlyphs" transform="rotate(-90 1438.3 259.0)">Azimuth Samples</text>
</g>
</svg>
</body>
</html>
